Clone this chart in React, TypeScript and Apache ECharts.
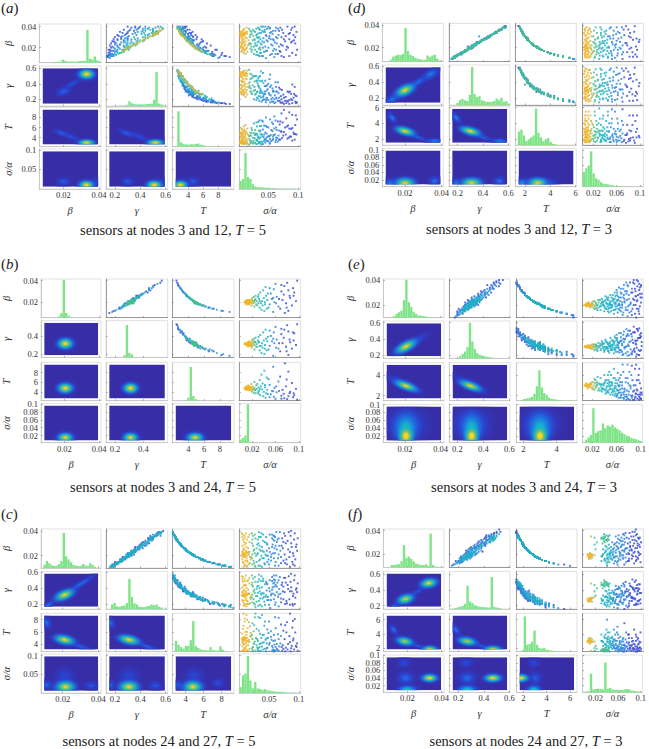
import React, { useEffect, useRef } from "react";
import * as echarts from "echarts";

const paramNames = ["β", "γ", "T", "σ/α"];

// Marginal histograms (25 bins across each axis, bar height in % of the cell)
const histA = [
  [0,0,0,0,0,1,2,2,3,8,5,3,3,3,3,3,4,4,5,85,10,8,16,6,1],
  [0,0,0,0,0,1,1,1,3,12,7,5,4,4,4,4,5,5,6,16,85,6,4,1,0],
  [0,1,90,11,7,6,5,6,6,7,8,5,3,2,1,1,1,0,0,0,0,0,0,0,0],
  [20,25,90,30,25,12,6,5,4,4,3,3,2,2,2,1,1,1,1,1,1,1,1,0,0],
];
const histB = [
  [0,0,0,0,0,0,0,3,12,98,12,5,1,0,0,0,0,0,0,0,0,0,0,0,0],
  [0,0,0,0,0,0,0,6,88,12,8,1,0,0,0,0,0,0,0,0,0,0,0,0,0],
  [0,0,0,0,0,1,8,88,12,4,1,0,0,0,0,0,0,0,0,0,0,0,0,0,0],
  [8,12,18,98,2,1,0,0,0,0,0,0,0,0,0,0,0,0,0,0,0,0,0,0,0],
];
const histC = [
  [0,8,18,12,7,5,6,10,18,90,30,22,15,8,6,5,5,10,7,5,12,8,3,0,0],
  [0,0,12,16,7,6,8,10,16,80,32,15,12,6,5,5,7,8,12,10,12,6,4,0,0],
  [0,28,18,12,8,15,15,30,80,15,10,6,4,4,3,12,4,3,3,14,5,2,0,0,0],
  [15,45,50,95,32,12,28,12,10,8,10,7,6,5,4,3,3,3,2,1,1,1,1,0,0],
];
const histD = [
  [0,0,0,5,13,16,18,17,20,88,28,18,15,10,8,6,5,5,16,12,16,18,8,3,0],
  [0,0,0,5,12,15,12,10,25,95,28,20,22,12,10,8,8,8,10,16,12,18,8,10,3],
  [0,35,40,25,10,15,20,25,95,32,20,10,15,18,8,3,2,0,0,0,0,0,0,0,0],
  [38,48,55,92,35,22,18,12,8,7,6,4,3,2,2,1,1,1,1,0,0,0,0,0,0],
];
const histE = [
  [0,0,0,2,4,10,14,18,45,98,40,28,15,10,6,5,4,3,2,2,1,0,0,0,0],
  [0,0,0,1,6,12,18,30,95,45,25,14,10,7,6,4,3,2,1,1,0,0,0,0,0],
  [0,0,2,4,6,8,10,18,38,80,35,20,15,8,5,4,2,2,1,0,0,0,0,0,0],
  [1,8,14,20,90,25,30,32,50,38,45,42,47,40,36,32,26,22,18,16,12,10,9,6,3],
];
const histF = [
  [0,0,0,6,6,8,8,16,58,25,28,22,16,10,8,6,6,8,4,88,6,2,1,0,0],
  [0,1,2,4,6,8,14,62,20,16,10,8,6,5,5,4,4,85,6,4,3,1,0,0,0],
  [0,2,3,92,18,20,26,55,18,10,8,10,5,4,3,2,1,1,1,1,0,0,0,0,0],
  [1,2,3,50,8,9,10,9,8,80,10,12,8,6,7,6,6,8,9,8,5,4,3,2,1],
];

// Density peaks read off each heat cell: [x, y, halfWidth, halfHeight, tiltDeg, level, levelUnderneath]
// Cell order: (β,γ) (β,T) (γ,T) (β,σ) (γ,σ) (T,σ)
const heatA = [
  [[.025,.4,.013,.065,30,.22,0],[.02,.3,.006,.07,20,.26,.1],[.033,.525,.0085,.12,0,1.05,0]],
  [[.024,4.2,.013,1,-22,.22,0],[.019,4.9,.006,.85,-20,.26,.1],[.033,3,.0085,1.2,0,1.05,0]],
  [[.39,4.2,.19,1,-22,.2,0],[.29,4.9,.09,.85,-20,.26,.1],[.52,3,.125,1.2,0,1.05,0]],
  [[.02,.017,.007,.02,0,.25,0],[.038,.015,.005,.02,0,.2,0],[.033,.008,.008,.022,0,1.05,0]],
  [[.3,.017,.09,.02,0,.25,0],[.56,.015,.06,.02,0,.2,0],[.51,.008,.115,.022,0,1.05,0]],
  [[4.6,.017,1.6,.02,0,.25,0],[3,.008,1.8,.022,0,1.05,0]],
];
const heatB = [
  [[.0205,.315,.0085,.115,0,1.05,0]],
  [[.0205,4.85,.0085,2,0,1.05,0]],
  [[.31,4.85,.1,2,0,1.05,0]],
  [[.0205,.015,.0085,.023,0,1,0]],
  [[.31,.015,.1,.023,0,1,0]],
  [[4.85,.015,2,.023,0,1,0]],
];
const heatC = [
  [[.03,.45,.018,.065,33,.3,0],[.012,.19,.007,.065,33,.32,0],[.021,.315,.0095,.1,22,1,.15]],
  [[.011,7.5,.006,1.3,-58,.32,0],[.03,3.6,.013,.75,-18,.27,0],[.021,4.7,.0095,1.25,-12,1,.15]],
  [[.16,7.5,.09,1.3,-58,.32,0],[.45,3.6,.19,.75,-18,.27,0],[.31,4.7,.14,1.25,-12,1,.15]],
  [[.021,.045,.01,.04,0,.17,0],[.011,.02,.006,.024,0,.27,0],[.036,.018,.007,.022,0,.24,0],[.0215,.015,.0095,.028,0,1,.12]],
  [[.31,.045,.15,.04,0,.17,0],[.16,.02,.08,.024,0,.27,0],[.52,.018,.09,.022,0,.24,0],[.31,.015,.135,.028,0,1,.12]],
  [[4.9,.045,1.9,.04,0,.17,0],[3.2,.02,1,.024,0,.27,0],[7.6,.025,1.2,.022,0,.22,0],[4.8,.015,1.8,.028,0,1,.12]],
];
const heatD = [
  [[.027,.4,.019,.08,33,.3,0],[.034,.5,.007,.08,30,.34,.1],[.013,.19,.007,.075,30,.32,.1],[.02,.3,.009,.105,25,1,.15]],
  [[.013,4.7,.006,.75,-50,.36,0],[.027,2.2,.011,.6,-18,.26,0],[.036,1.75,.007,.5,0,.34,.1],[.02,3,.009,.85,-15,1,.15]],
  [[.19,4.7,.09,.75,-50,.36,0],[.4,2.2,.16,.6,-18,.26,0],[.53,1.75,.1,.5,0,.34,.1],[.3,3,.135,.85,-15,1,.15]],
  [[.012,.012,.006,.022,0,.36,0],[.036,.017,.006,.022,0,.32,0],[.02,.012,.009,.023,0,.98,.15]],
  [[.19,.012,.07,.022,0,.36,0],[.53,.017,.08,.022,0,.32,0],[.31,.012,.135,.023,0,.98,.15]],
  [[1.8,.012,1,.022,0,.42,0],[4,.012,1,.02,0,.22,0],[3,.012,1.25,.023,0,.98,.15]],
];
const heatE = [
  [[.025,.36,.017,.08,30,.25,0],[.0205,.305,.011,.1,28,1,.15]],
  [[.02,3.1,.017,.75,-25,.3,0],[.0205,2.95,.011,.65,-20,1,.15]],
  [[.3,3.1,.23,.75,-25,.3,0],[.3,2.95,.145,.65,-20,1,.15]],
  [[.021,.05,.02,.07,0,.27,0],[.0205,.04,.0095,.055,0,.6,.2],[.0205,.02,.0055,.032,0,1.15,.45]],
  [[.31,.05,.26,.07,0,.27,0],[.31,.04,.115,.055,0,.6,.2],[.31,.02,.07,.032,0,1.15,.45]],
  [[3,.05,2,.07,0,.27,0],[3,.04,1,.055,0,.6,.2],[3,.02,.58,.032,0,1.15,.45]],
];
const heatF = [
  [[.026,.38,.014,.055,30,.22,0],[.012,.19,.007,.055,32,.32,0],[.019,.285,.0085,.1,15,.95,.1],[.0325,.485,.0085,.1,10,1,.1]],
  [[.012,4.6,.006,.85,-50,.32,0],[.026,2.3,.011,.55,-18,.24,0],[.0185,2.95,.0085,1,-10,.9,.1],[.033,1.78,.0075,.9,0,1.05,.1]],
  [[.18,4.6,.09,.85,-50,.32,0],[.38,2.3,.16,.55,-18,.24,0],[.27,2.95,.125,1,-10,.9,.1],[.47,1.78,.115,.9,0,1.05,.1]],
  [[.018,.08,.007,.023,0,.2,0],[.019,.04,.009,.03,0,.3,0],[.02,.009,.009,.019,0,.6,.1],[.033,.04,.0085,.02,0,1.05,0]],
  [[.26,.08,.1,.023,0,.2,0],[.27,.04,.125,.03,0,.3,0],[.27,.009,.115,.019,0,.6,.1],[.47,.04,.125,.02,0,1.05,0]],
  [[2.9,.08,.9,.023,0,.2,0],[3,.04,1,.03,0,.27,0],[2.9,.009,1,.019,0,.6,.1],[1.8,.04,1.2,.02,0,1.05,0]],
];

// Scatter samples: [β×1000, γ×100, T×10, (σ/α)×1000, colour level 0..5]
const samplesA = [
[33,52,31,5,5],[34,54,30,7,5],[32,50,32,9,5],[35,55,29,4,5],[33,53,30,11,5],[31,48,33,6,5],[36,56,28,8,5],[34,52,30,12,5],[32,51,31,3,5],[37,57,27,10,5],[33,50,32,14,4],[35,53,29,15,4],[30,46,35,8,5],[29,44,36,5,5],[28,43,37,10,5],[27,42,38,7,5],[26,40,40,12,5],[25,38,42,4,5],[24,37,43,9,5],[23,35,45,6,5],[22,33,47,11,5],[21,32,48,8,5],[20,30,50,5,5],[19,29,52,13,5],[18,28,54,7,5],[17,27,56,10,4],[16,26,58,15,4],[15,25,62,9,4],[20,32,49,14,4],[22,36,46,16,4],
[38,58,26,18,3],[36,53,29,20,3],[33,47,33,22,3],[30,42,36,19,3],[27,38,40,24,3],[24,34,44,21,3],[21,31,49,26,3],[18,27,55,23,3],[35,50,30,28,2],[32,44,34,30,2],[28,36,39,27,2],[25,30,44,32,2],[22,27,48,29,2],[19,24,54,34,2],[16,22,62,31,2],[14,20,68,26,2],[37,50,29,36,2],[34,43,32,38,2],[30,35,38,35,2],[26,28,43,40,2],[39,47,28,33,2],[29,25,41,42,1],
[40,44,30,45,1],[38,38,33,48,1],[35,30,37,44,1],[31,26,42,52,1],[27,22,48,47,1],[23,20,55,55,1],[20,19,60,50,1],[17,17,67,58,1],[13,16,76,53,1],[11,15,82,60,1],[36,42,31,62,1],[33,34,35,57,1],[29,30,39,65,1],[25,25,46,61,1],[21,22,54,68,1],[39,33,36,70,0],[34,26,44,75,0],[30,20,52,72,0],[26,18,60,78,0],[22,16,70,74,0],[18,15,78,80,0],[12,14,90,85,0],[37,27,42,88,0],[32,22,50,92,0],[28,19,58,85,0],[24,17,65,95,0],[15,15,85,90,0],[40,30,38,82,0],[11,14,95,76,0],[35,24,46,97,0],[14,18,72,66,0],[16,20,64,43,1],[12,17,74,39,1],[13,19,70,30,2],[10,16,80,46,1],[38,46,30,52,1],[40,54,27,41,1],[28,30,42,58,1],[24,29,46,37,2],[20,23,56,41,1],[18,22,60,63,1],
];
const samplesA2 = [
[33,51,30,6,5],[32,52,31,10,5],[34,53,29,3,5],[35,54,30,13,5],[31,49,33,4,5],[36,55,28,6,5],[33,54,31,8,5],[34,51,30,10,5],[21,33,47,3,5],[20,31,49,7,5],[19,30,51,9,5],[22,34,46,5,5],[18,29,53,11,5],[23,36,44,12,5],[24,38,42,6,5],[20,29,50,4,5],[17,26,57,6,5],[25,39,41,10,5],[28,44,37,6,5],[30,47,34,12,5],[26,42,39,7,4],
[19,30,50,20,3],[35,52,30,22,3],[23,37,44,19,3],[31,50,33,25,3],[16,27,59,22,3],[37,48,28,24,3],[27,43,38,27,3],[22,29,47,31,2],[38,50,27,30,2],[13,21,71,33,2],[34,49,31,35,2],[29,38,40,33,2],[18,31,54,37,2],[36,44,30,40,2],[24,32,45,28,2],[40,56,26,38,2],[15,24,63,36,2],[12,19,72,41,1],[32,37,36,46,1],[26,33,42,49,1],[39,52,28,53,1],[21,27,50,45,1],[35,38,33,55,1],[17,21,61,48,1],[28,25,45,54,1],[30,30,40,63,1],[14,16,74,62,1],[38,42,32,66,1],[23,24,52,71,0],[36,35,36,68,0],[20,17,64,83,0],[31,23,46,79,0],[27,27,47,93,0],[16,16,72,70,0],[39,39,34,90,0],[33,29,40,84,0],[13,15,84,96,0],[25,20,57,88,0],
];
const samplesA3 = [
[38,55,27,9,5],[16,27,58,5,5],[14,23,65,12,4],[29,46,36,14,4],[27,40,38,17,4],[39,57,26,14,4],[24,35,43,18,3],[32,46,33,20,3],[36,50,29,26,3],[21,30,49,22,3],[18,26,55,28,3],[30,44,36,31,2],[26,37,41,34,2],[33,41,34,32,2],[20,28,52,36,2],[38,44,31,35,2],[15,22,63,38,2],[23,30,47,39,2],[35,41,33,42,2],[28,33,40,37,2],[12,18,74,35,1],[37,37,34,44,1],[31,31,40,47,1],[25,27,46,43,1],[17,19,63,46,1],[40,40,33,50,1],[34,36,37,53,1],[29,28,43,51,1],[22,22,53,57,1],[19,20,58,60,1],[36,31,37,58,1],[27,30,45,59,1],[14,17,70,56,1],[39,36,35,63,1],[32,28,44,67,1],[24,21,55,64,1],[17,18,66,69,0],[37,32,39,73,0],[28,22,51,76,0],[21,18,62,81,0],[34,30,42,86,0],[12,15,88,72,0],[30,25,47,95,0],[40,36,36,94,0],[26,19,59,90,0],[18,16,76,98,0],
];
const samplesB = [
[20,31,48,13,5],[21,32,47,15,5],[20,32,49,11,5],[19,30,50,14,5],[21,31,46,16,5],[20,30,48,10,5],[20,33,48,17,5],[22,33,45,13,5],[19,31,51,12,5],[21,33,47,14,5],[18,29,53,15,5],[22,32,44,18,5],[20,31,47,9,5],[21,30,48,12,5],[19,32,49,16,5],[20,31,50,18,5],[22,34,44,15,5],[18,28,54,13,5],
[23,35,43,20,4],[19,29,52,21,4],[21,33,46,22,4],[17,27,57,19,4],[24,36,41,20,4],[20,30,49,24,3],[22,33,45,25,3],[18,28,54,27,3],[25,37,39,23,3],[16,25,61,24,3],[21,31,47,28,3],[26,38,38,26,3],
[23,33,43,32,2],[19,29,52,35,2],[27,39,37,31,2],[15,24,65,33,2],[21,32,46,37,2],[29,41,34,34,2],[17,27,58,38,2],[24,35,41,40,2],[13,21,76,36,2],[31,44,32,39,2],[20,30,50,42,2],[26,37,38,44,2],[12,20,84,41,2],[22,34,45,46,2],[34,47,29,43,2],
[18,29,55,50,1],[28,40,36,52,1],[15,25,67,48,1],[23,34,43,54,1],[33,46,30,50,1],[11,18,92,56,1],[20,32,49,58,1],[37,50,27,60,1],[25,36,40,62,1],[16,26,62,65,1],
[30,42,33,70,0],[14,23,72,68,0],[22,32,45,72,0],[35,47,28,75,0],[19,28,52,78,0],[27,38,37,74,0],[12,19,82,82,0],[24,33,41,85,0],[38,52,26,80,0],[17,26,59,88,0],[10,16,99,76,0],[29,43,34,92,0],[21,30,47,95,0],[33,44,30,90,0],[40,53,25,97,0],[26,36,38,84,0],
];
const samplesB2 = [
[20,31,48,12,5],[21,31,47,10,5],[20,32,48,15,5],[19,30,49,11,5],[21,32,46,8,5],[20,30,50,12,5],[22,32,45,11,5],[19,31,50,9,5],[20,33,47,14,5],[21,30,47,16,5],[20,31,49,7,5],[22,33,46,17,5],[19,29,51,17,5],[18,30,52,10,5],[20,29,49,19,4],[22,31,45,20,4],[19,32,48,22,4],[21,34,46,23,3],[23,33,44,26,3],[17,28,57,29,3],[25,35,40,30,2],[21,29,47,33,2],[19,33,50,31,2],[18,26,55,42,2],[28,39,36,47,2],[14,24,70,45,2],[24,37,42,56,1],[32,44,31,57,1],[19,27,52,61,1],[23,32,43,66,0],[15,23,66,79,0],[31,45,32,82,0],[36,48,27,70,0],[26,35,38,91,0],
];
const samplesC = [
[21,31,48,8,5],[22,32,46,12,5],[21,32,47,5,5],[20,30,49,10,5],[22,33,45,14,5],[21,30,48,7,5],[23,34,44,11,5],[20,31,50,13,5],[19,29,52,9,5],[24,35,42,6,5],[18,27,55,12,5],[25,37,40,8,5],[16,25,60,10,5],[28,41,36,5,5],[14,22,70,7,5],[30,44,33,11,5],[12,18,82,9,5],[33,48,30,6,5],[11,17,88,12,5],[36,52,28,9,5],[38,55,26,4,5],[15,23,66,14,5],[26,38,38,15,4],[21,33,47,16,4],[23,33,44,17,4],[19,28,53,18,4],[13,20,76,16,4],[31,46,32,17,4],[35,50,29,15,4],[17,26,58,19,4],
[21,32,48,22,3],[24,36,41,24,3],[18,28,55,21,3],[28,42,35,23,3],[14,21,71,25,3],[33,47,30,22,3],[11,16,90,27,3],[20,30,50,28,3],[37,54,27,26,3],[26,39,38,29,3],
[22,34,45,31,2],[16,24,62,33,2],[30,43,33,32,2],[12,19,83,35,2],[25,36,40,34,2],[20,32,50,37,2],[35,49,29,36,2],[18,27,55,39,2],[27,41,36,38,2],[39,57,26,33,2],[23,33,43,41,2],[14,23,70,42,2],[32,49,31,40,2],[21,29,47,44,2],
[29,45,34,47,1],[17,25,58,49,1],[24,37,41,46,1],[37,50,27,51,1],[19,31,52,53,1],[13,19,77,50,1],[27,38,37,55,1],[33,46,30,57,1],[21,33,47,54,1],[10,15,93,52,1],[26,42,39,59,1],[36,56,28,58,1],[15,22,66,61,1],[22,31,46,60,1],[31,42,32,63,1],[39,56,26,62,1],[18,29,56,65,1],[28,39,36,67,1],[12,17,83,66,1],[24,33,41,69,1],
[34,47,29,72,0],[16,26,62,74,0],[21,35,48,76,0],[30,47,34,78,0],[38,53,26,75,0],[13,21,76,80,0],[25,39,40,82,0],[19,26,53,84,0],[36,48,28,86,0],[27,36,37,88,0],[11,19,90,85,0],[22,30,46,90,0],[33,50,31,92,0],[40,58,25,87,0],[17,28,59,94,0],[29,40,35,96,0],[15,20,67,89,0],
];
const samplesC2 = [
[21,31,47,6,5],[20,31,49,4,5],[22,33,46,8,5],[21,32,48,10,5],[19,30,51,6,5],[23,35,43,5,5],[20,29,50,9,5],[22,31,45,7,5],[24,36,41,11,5],[26,38,39,7,5],[35,51,29,5,5],[38,56,26,11,5],[31,44,32,8,5],[13,20,77,9,5],[15,24,65,6,5],[11,18,90,7,5],[17,25,57,5,5],[29,43,34,9,5],[33,49,30,13,5],[12,20,80,13,4],[37,53,27,17,4],
[13,22,74,22,3],[34,48,29,27,3],[16,26,61,24,3],[38,56,25,21,3],[22,34,44,26,3],[29,42,34,30,2],[12,18,84,32,2],[35,51,28,33,2],[17,27,57,35,2],[37,52,27,40,2],[24,33,41,36,2],[31,45,32,43,2],[11,17,88,38,2],[20,31,49,45,2],[34,49,29,55,1],[35,50,29,60,1],[33,47,30,64,1],[36,51,28,58,1],[28,44,35,61,1],[15,25,64,47,1],[23,36,42,51,1],[19,27,53,70,1],[26,36,38,73,0],[14,20,71,77,0],[39,55,25,83,0],[32,44,31,81,0],[20,33,49,91,0],[24,35,41,97,0],[12,20,81,93,0],[30,41,33,87,0],
];
const samplesC3 = [
[34,49,29,9,5],[37,54,27,6,5],[16,24,60,13,5],[27,40,37,12,5],[23,33,43,15,4],[14,21,69,18,4],[19,30,52,20,4],[30,44,33,21,3],[36,52,28,23,3],[12,19,84,26,3],[25,38,40,25,3],[21,30,48,30,2],[15,23,65,29,2],[33,48,30,31,2],[28,40,35,34,2],[38,55,26,37,2],[18,29,55,41,2],[24,34,42,39,2],[13,19,77,43,2],[30,46,33,46,1],[35,48,28,45,1],[20,29,50,48,1],[26,40,39,50,1],[16,25,61,53,1],[37,54,27,55,1],[22,33,45,57,1],[29,41,34,56,1],[32,47,30,59,1],[12,19,84,60,1],[18,26,55,58,1],[25,35,40,63,1],[34,50,29,66,1],[39,54,26,68,1],[21,32,48,66,1],[14,22,72,70,0],[28,44,35,71,0],[31,42,32,74,0],[17,24,59,79,0],[36,53,28,77,0],[23,36,43,85,0],[38,56,26,93,0],[13,18,78,90,0],[27,38,37,95,0],[34,46,29,98,0],
];
const samplesD = [
[20,30,30,5,5],[21,31,29,9,5],[19,29,32,7,5],[20,31,30,12,5],[22,33,27,6,5],[18,27,33,4,5],[23,34,26,10,5],[17,25,35,8,5],[24,36,25,3,5],[16,24,38,13,5],[25,38,24,7,5],[15,23,40,11,5],[27,40,22,5,5],[14,21,43,9,5],[29,44,21,12,5],[13,20,46,6,5],[31,47,19,8,5],[12,18,50,10,5],[33,50,18,4,5],[11,17,55,7,5],[35,52,17,11,5],[36,54,17,5,5],[37,55,16,14,4],[20,29,30,15,4],[19,30,31,16,4],[22,32,27,14,4],[18,26,33,17,4],[26,39,23,15,4],[34,51,18,16,4],[15,22,40,18,4],
[20,31,30,22,3],[23,35,26,24,3],[17,26,35,21,3],[27,41,22,23,3],[14,22,43,25,3],[30,46,20,20,3],[33,49,18,26,3],[11,16,55,22,3],[21,32,29,27,3],[19,28,31,29,3],
[25,37,24,31,2],[16,25,38,33,2],[29,43,21,35,2],[22,34,27,30,2],[36,55,17,34,2],[12,19,50,37,2],[20,30,30,36,2],[18,28,33,39,2],[24,35,25,38,2],[32,48,19,41,2],[14,20,43,42,2],[27,40,22,44,2],[38,57,16,32,2],[21,33,29,46,2],[10,15,59,30,2],
[17,27,35,50,1],[23,33,26,53,1],[30,45,20,48,1],[13,19,46,52,1],[35,53,17,55,1],[20,29,30,58,1],[26,38,23,60,1],[15,24,40,62,1],[33,51,18,65,1],[11,18,55,57,1],[19,31,32,67,1],[28,42,22,63,1],[38,58,16,60,1],[22,31,27,70,1],
[24,37,25,75,0],[16,23,38,78,0],[31,46,19,73,0],[12,17,50,82,0],[36,53,17,80,0],[20,32,30,85,0],[27,41,22,88,0],[14,23,43,92,0],[34,50,18,90,0],[18,26,33,95,0],[25,35,24,98,0],[39,57,15,76,0],[29,45,21,84,0],[10,16,58,70,0],[21,28,29,93,0],[30,37,20,45,1],
];
const samplesD2 = [
[20,30,30,9,5],[21,32,29,5,5],[19,28,32,11,5],[22,34,27,8,5],[18,28,33,7,5],[24,35,25,11,5],[16,25,38,6,5],[27,41,22,8,5],[13,19,46,12,5],[31,46,19,5,5],[35,53,17,6,5],[12,19,50,6,5],[38,56,16,9,5],[29,43,21,7,5],[15,22,40,5,5],[33,49,18,10,5],[11,16,55,12,5],[25,37,24,12,5],[36,55,17,13,4],[14,20,43,16,4],[30,45,20,17,4],
[35,52,17,21,3],[12,18,50,23,3],[25,38,24,20,3],[16,24,38,26,3],[38,56,16,24,3],[29,43,21,28,3],[13,19,46,31,2],[31,47,19,33,2],[24,36,25,35,2],[17,26,35,37,2],[34,51,18,39,2],[20,29,30,43,2],[26,39,23,40,2],[12,18,50,45,2],[15,22,40,47,2],[38,57,16,50,1],[10,16,58,52,1],[28,42,22,54,1],[22,33,27,57,1],[32,49,19,59,1],[18,27,33,62,1],[25,38,24,66,1],[14,21,43,69,1],[36,54,17,72,0],[22,34,27,78,0],[30,44,20,81,0],[16,25,38,87,0],[39,58,15,91,0],[12,18,50,95,0],[27,39,22,99,0],
];
const samplesD3 = [
[21,31,29,6,5],[19,29,31,10,5],[23,33,26,7,5],[17,27,35,11,5],[14,22,43,6,5],[28,42,22,10,5],[26,38,23,8,5],[32,47,19,13,5],[37,57,16,6,5],[22,33,27,17,4],[16,24,38,19,4],[12,17,50,15,4],[24,36,25,22,3],[21,31,29,24,3],[18,27,33,26,3],[28,42,22,27,3],[20,29,30,31,2],[15,22,40,29,2],[23,35,26,32,2],[33,50,18,33,2],[19,29,31,34,2],[26,39,23,36,2],[13,20,46,36,2],[30,44,20,38,2],[22,32,27,40,2],[35,52,17,42,2],[17,25,35,44,2],[24,37,25,43,2],[11,17,55,45,2],[20,30,30,47,1],[28,41,22,49,1],[37,55,16,48,1],[15,23,40,51,1],[25,36,24,52,1],[31,46,19,54,1],[18,28,33,55,1],[23,34,26,59,1],[13,19,46,61,1],[34,50,18,62,1],[20,31,30,65,1],[29,44,21,68,1],[16,26,38,71,1],[38,57,16,69,1],[24,35,25,77,0],[33,49,18,83,0],[19,28,31,82,0],[12,17,50,88,0],[28,43,22,94,0],
];
const samplesE = [
[20,30,30,10,5],[21,31,29,12,5],[20,31,30,8,5],[19,29,31,14,5],[20,30,30,16,5],[21,30,29,11,5],[19,30,32,9,5],[20,29,30,13,5],[21,32,29,15,5],[20,31,31,18,5],[22,32,27,12,5],[19,28,31,17,4],[21,31,28,20,4],[20,30,30,22,4],[22,33,27,19,4],[18,28,33,21,4],[19,30,32,24,3],[21,32,29,26,3],[23,33,26,23,3],[17,27,35,25,3],[20,29,31,28,3],[22,31,27,30,3],[18,27,33,27,3],[24,35,25,29,3],[19,31,31,32,2],
[21,33,29,34,2],[16,26,37,33,2],[23,35,26,36,2],[20,28,30,38,2],[25,37,24,35,2],[18,30,33,40,2],[22,30,27,42,2],[15,24,40,39,2],[27,39,22,41,2],[19,29,32,44,2],[24,33,25,45,2],[17,25,35,46,2],[21,34,29,48,2],[26,36,23,43,2],[14,23,43,47,2],[20,32,30,50,2],[23,32,26,52,2],[18,26,33,51,2],[28,41,21,49,2],[16,28,37,54,2],[22,35,27,55,2],[25,33,24,53,2],[19,27,32,57,2],[30,43,20,56,2],[21,29,29,58,2],[13,22,46,55,2],[24,38,25,60,2],
[17,29,35,62,1],[27,36,22,61,1],[20,26,30,64,1],[32,45,19,59,1],[15,26,40,66,1],[23,37,26,65,1],[34,47,18,63,1],[18,24,33,68,1],[26,40,23,70,1],[12,20,50,69,1],[22,28,27,72,1],[29,38,21,67,1],[36,49,17,71,1],[16,22,37,74,1],[24,31,25,76,1],[31,40,19,73,1],[19,33,32,78,1],[38,52,16,75,1],[14,20,43,80,1],[21,27,29,82,1],[28,44,21,79,1],[33,43,18,84,1],[11,19,50,77,1],
[25,35,24,86,0],[17,24,35,85,0],[37,48,16,88,0],[30,46,20,83,0],[20,34,30,90,0],[13,24,46,89,0],[40,55,15,87,0],[23,29,26,92,0],[35,52,17,93,0],[27,33,22,91,0],[15,20,40,95,0],[32,41,19,96,0],[39,50,15,94,0],[19,25,32,97,0],[26,42,23,98,0],[10,18,50,91,0],[36,43,17,99,0],[29,36,21,100,0],
];
const samplesE2 = [
[20,30,30,7,5],[21,31,29,9,5],[19,30,31,11,5],[21,31,30,13,5],[20,31,30,15,5],[20,29,31,10,5],[22,31,28,14,5],[18,29,32,16,4],[21,32,28,18,4],[19,28,33,19,4],[23,33,26,21,4],[17,26,36,23,3],[22,33,28,25,3],[20,31,30,27,3],[18,29,32,30,3],[24,34,25,32,3],[16,25,38,28,2],[19,28,31,34,2],[22,32,27,35,2],[20,30,31,37,2],[23,34,26,39,2],[17,27,35,41,2],[21,30,29,43,2],[25,35,24,44,2],[15,25,40,45,2],[20,31,31,47,2],[22,30,27,49,2],[18,28,33,49,2],[26,38,23,51,2],[19,30,32,52,2],[24,36,25,54,2],[16,26,37,56,2],[21,32,29,56,2],[28,39,21,59,2],[23,31,26,60,2],[14,24,42,61,1],[20,29,30,62,1],[26,35,23,63,1],[18,26,33,65,1],[30,42,20,66,1],[22,34,27,68,1],[25,39,24,72,1],[33,45,18,70,1],[16,24,37,77,1],[29,43,21,75,1],[35,50,17,78,1],[20,36,30,80,1],[12,21,49,84,0],[24,28,25,88,0],[38,50,16,81,0],[31,38,19,90,0],[28,41,21,94,0],[17,21,35,92,0],[34,45,18,97,0],[22,26,27,99,0],[37,53,16,96,0],
];
const samplesE3 = [
[22,34,27,37,2],[19,26,32,39,2],[24,37,25,41,2],[17,28,35,43,2],[21,28,29,45,2],[26,34,23,46,2],[18,31,33,47,2],[23,36,26,48,2],[15,26,40,50,2],[20,27,30,52,2],[28,38,21,53,2],[25,37,24,56,2],[22,29,27,57,2],[17,24,35,58,2],[19,33,32,60,2],[27,41,22,57,2],[30,41,20,60,1],[24,32,25,62,1],[21,35,29,63,1],[16,23,37,64,1],[26,37,23,66,1],[33,47,18,66,1],[20,32,30,68,1],[14,21,43,70,1],[28,36,21,71,1],[23,30,26,72,1],[31,44,19,76,1],[18,30,33,74,1],[36,46,17,77,1],[25,31,24,79,1],[22,37,27,82,1],[15,22,40,83,1],[30,39,20,85,0],[38,48,16,86,0],[20,26,30,87,0],[27,37,22,90,0],[33,48,18,89,0],[24,38,25,93,0],[17,26,35,95,0],[40,52,15,92,0],[35,47,17,99,0],[29,41,21,97,0],[13,20,46,96,0],[26,31,23,100,0],
];
const samplesF = [
[18,27,30,8,5],[19,29,29,10,5],[18,26,31,7,5],[17,27,32,9,5],[19,28,29,12,5],[20,29,28,6,5],[18,28,30,11,5],[16,25,34,8,4],[20,30,28,13,4],[17,25,32,14,4],[19,30,29,15,4],[21,30,26,10,4],
[33,47,17,33,3],[34,48,16,36,3],[32,46,17,38,3],[33,49,17,35,3],[35,50,16,37,3],[31,45,18,34,3],[34,46,16,32,3],[32,48,17,40,3],[36,50,15,39,3],[33,45,17,41,3],[30,44,19,36,3],[35,47,16,42,2],[37,52,15,35,2],
[18,29,30,30,2],[20,27,28,33,2],[16,24,34,36,2],[22,32,25,38,2],[19,31,29,40,2],[14,21,39,37,2],[24,35,23,41,2],[17,26,32,43,2],[21,33,26,44,2],[15,25,36,42,2],[26,38,21,39,2],[18,24,30,46,2],[20,31,28,45,2],[23,29,24,47,2],[13,19,42,44,2],[28,40,20,43,2],[16,29,34,48,2],
[19,26,29,50,1],[25,34,22,52,1],[22,36,25,51,1],[17,23,32,53,1],[30,39,19,49,1],[14,24,39,54,1],[21,28,26,55,1],[27,35,20,56,1],[12,18,46,52,1],[24,31,23,58,1],[18,31,30,57,1],[33,41,17,59,1],[16,21,34,60,1],[20,25,28,62,1],[29,42,19,61,1],[26,30,21,64,1],[15,27,36,63,1],[23,38,24,66,1],[36,44,15,60,1],[11,17,50,58,1],[19,33,29,68,1],[31,36,18,67,1],[22,27,25,70,1],[17,28,32,72,1],[28,33,20,69,1],
[34,41,16,74,0],[25,38,22,73,0],[14,18,39,76,0],[38,50,14,72,0],[20,34,28,78,0],[30,45,19,80,0],[23,26,24,79,0],[35,44,16,82,0],[16,26,34,83,0],[27,41,20,85,0],[21,30,26,86,0],[39,53,14,84,0],[12,21,46,87,0],[32,38,18,88,0],[18,22,30,90,0],[25,29,22,89,0],[37,46,15,92,0],[29,35,19,93,0],[22,39,25,94,0],[15,23,36,91,0],[33,47,17,95,0],[26,36,21,97,0],[19,27,29,96,0],[41,52,13,90,0],[13,23,42,98,0],
[24,33,23,20,3],[28,38,20,18,3],[34,46,16,18,3],[35,48,16,12,4],[30,42,19,22,3],
];
const samplesF2 = [
[18,27,30,6,5],[19,27,29,8,5],[17,26,32,11,5],[18,29,30,13,5],[20,28,28,9,5],[16,26,34,11,4],[19,31,29,18,4],[33,46,17,30,3],[34,49,16,30,3],[31,47,18,40,3],[35,46,16,34,3],[32,44,18,43,3],[29,42,19,32,3],[36,48,15,44,2],
[18,27,30,31,2],[14,23,39,30,2],[21,31,26,36,2],[24,33,23,33,2],[16,27,34,40,2],[19,28,29,44,2],[12,19,46,39,2],[22,30,25,46,2],[26,36,21,47,2],[15,23,36,49,2],[20,27,28,50,2],[17,30,32,51,1],[28,37,20,52,1],[23,34,24,55,1],[13,22,42,57,1],[30,41,19,57,1],[25,31,22,60,1],[18,25,30,62,1],[35,45,16,55,1],[21,35,26,63,1],[27,32,20,65,1],[31,39,18,64,1],[16,24,34,68,1],[24,36,23,71,1],[33,44,17,70,1],[37,48,15,68,0],[20,31,28,74,0],[29,38,19,76,0],[14,20,39,78,0],[26,33,21,80,0],[35,42,16,86,0],[23,31,24,83,0],[18,29,30,85,0],[31,42,18,91,0],[39,50,14,88,0],[27,38,20,93,0],[21,26,26,95,0],[34,47,16,97,0],[16,22,34,94,0],[10,15,60,40,1],[11,16,55,70,0],
];
const samplesF3 = [
[19,26,29,32,2],[15,22,36,35,2],[23,31,24,37,2],[17,24,32,40,2],[27,39,20,37,2],[20,30,28,41,2],[13,21,42,41,2],[25,36,22,44,2],[21,29,26,48,2],[16,22,34,46,2],[24,28,23,50,1],[18,26,30,54,1],[29,40,19,54,1],[14,22,39,59,1],[26,34,21,58,1],[22,33,25,61,1],[32,42,17,62,1],[19,24,29,65,1],[28,35,20,66,1],[34,45,16,65,1],[17,22,32,67,1],[23,28,24,69,1],[36,46,15,70,1],[25,32,22,75,1],[13,20,42,73,1],[30,38,19,71,1],[21,32,26,77,1],[33,40,17,78,1],[27,36,20,80,0],[16,23,34,78,0],[38,48,14,79,0],[24,30,23,82,0],[19,30,29,83,0],[32,43,18,84,0],[29,40,19,87,0],[22,28,25,88,0],[36,42,15,90,0],[25,34,22,92,0],[17,26,32,93,0],[34,42,16,94,0],[20,28,28,98,0],[30,36,19,99,0],[28,41,20,96,0],[14,21,39,90,0],
];

// Axis ranges: per panel, per parameter [min, max], along x then along y
const xRangeA = [[.0065,.0411],[.13,.616],[1.93,10.07],[.0017,.104]];
const yRangeA = [[.0057,.0425],[.113,.63],[2.2,10],[-.0026,.103]];
const xRangeB = [[.0065,.0411],[.136,.572],[1.98,9.77],[-.0018,.103]];
const yRangeB = [[.0057,.0415],[.163,.57],[2.3,10.1],[.0019,.1017]];
const xRangeC = [[.0078,.0415],[.129,.616],[2.52,9.37],[0,.103]];
const yRangeC = [[.0101,.0415],[.137,.612],[2.74,9.05],[-.0018,.1045]];
const xRangeD = [[.0076,.0409],[.132,.613],[1.24,6.05],[.0017,.1057]];
const yRangeD = [[.0076,.0415],[.118,.612],[1.23,6.13],[.0022,.1044]];
const xRangeE = [[.0078,.0419],[.138,.605],[1.58,5.22],[.0038,.1027]];
const yRangeE = [[.0099,.0408],[.159,.62],[1.52,5.19],[.0026,.1009]];
const xRangeF = [[.006,.0414],[.13,.605],[1.4,6.6],[-.0026,.103]];
const yRangeF = [[.0086,.0414],[.159,.633],[1.48,6.9],[.0022,.1009]];

// Tick labels per panel and parameter
const xLabelsA = [[.02,.04],[.2,.4,.6],[4,6,8],[.05,.1]];
const yLabelsA = [[.02,.04],[.2,.4,.6],[4,6,8],[.05,.1]];
const xLabelsB = [[.02,.04],[.2,.4],[4,6,8],[.02,.06,.1]];
const yLabelsB = [[.02,.04],[.2,.4],[4,6,8],[.02,.04,.06,.08,.1]];
const xLabelsC = [[.02,.04],[.2,.4,.6],[4,6,8],[.05,.1]];
const yLabelsC = [[.02,.04],[.2,.4,.6],[4,6,8],[.05,.1]];
const xLabelsD = [[.02,.04],[.2,.4,.6],[2,4,6],[.02,.06,.1]];
const yLabelsD = [[.02,.04],[.2,.4,.6],[2,4,6],[.02,.04,.06,.08,.1]];
const xLabelsE = [[.02,.04],[.2,.4,.6],[2,4],[.02,.06,.1]];
const yLabelsE = [[.02,.04],[.2,.4,.6],[2,4],[.02,.04,.06,.08,.1]];
const xLabelsF = [[.02,.04],[.2,.4,.6],[2,4,6],[.02,.06,.1]];
const yLabelsF = [[.02,.04],[.2,.4,.6],[2,4,6],[.02,.04,.06,.08,.1]];

const captions = [
  "sensors at nodes 3 and 12, ", "sensors at nodes 3 and 24, ", "sensors at nodes 24 and 27, ",
  "sensors at nodes 3 and 12, ", "sensors at nodes 3 and 24, ", "sensors at nodes 24 and 27, ",
];
const captionT = ["5", "5", "5", "3", "3", "3"];
const panelLetters = ["a", "b", "c", "d", "e", "f"];

const SERIF = "Liberation Serif";
const HEAT_BG = "#372da6";
const HIST_GREEN = "#7ee487";
const POINT_COLORS = ["#3c4fd6", "#2b86dd", "#1fb0c4", "#45bd92", "#b9bb55", "#eeb52c"];
const HEAT_STOPS = [
  [0, 55, 45, 166], [.18, 40, 70, 215], [.35, 25, 130, 225], [.5, 20, 175, 205],
  [.65, 50, 190, 160], [.8, 130, 195, 100], [.9, 210, 195, 60], [1, 250, 215, 35],
];
const FALL_K = [0, .1, .2, .35, .6, .8, 1];
const FALL_T = [1, .9, .75, .5, .2, .07, 0];
const FALL_A = [1, 1, 1, 1, .8, .35, 0];
const TINT_CAP = [4, 3, 2, 3, 2, 2];

function heatRgb(t: number) {
  const v = Math.max(0, Math.min(1, t));
  for (let i = 1; i < HEAT_STOPS.length; i++) {
    if (v <= HEAT_STOPS[i][0]) {
      const a = HEAT_STOPS[i - 1], b = HEAT_STOPS[i];
      const f = (v - a[0]) / (b[0] - a[0]);
      return [1, 2, 3].map((k) => Math.round(a[k] + (b[k] - a[k]) * f));
    }
  }
  return HEAT_STOPS[HEAT_STOPS.length - 1].slice(1);
}

const layouts = [
  { dx: 0, dy: 0, cols: [[118,303],[318,503],[517,702],[718,902]], rows: [[72,188],[198,318],[322,440],[447,567]], gap: 25, cap: [168,230], lab: [1,0] },
  { dx: 0, dy: 250, cols: [[118,303],[318,503],[517,702],[718,902]], rows: [[87,203],[212,322],[337,452],[460,578]], gap: 29, cap: [158,487], lab: [1,256] },
  { dx: 0, dy: 499, cols: [[118,303],[318,503],[517,702],[718,902]], rows: [[90,207],[217,330],[343,458],[465,582]], gap: 29, cap: [154,741], lab: [1,506] },
  { dx: 325, dy: 0, cols: [[172,355],[372,555],[571,754],[773,955]], rows: [[70,185],[195,315],[320,435],[445,560]], gap: 26, cap: [514,229], lab: [348,0] },
  { dx: 325, dy: 250, cols: [[175,357],[373,555],[574,756],[773,955]], rows: [[87,203],[213,325],[338,452],[463,578]], gap: 27, cap: [519,487], lab: [348,256] },
  { dx: 325, dy: 499, cols: [[175,357],[373,555],[574,756],[773,955]], rows: [[90,205],[217,330],[343,458],[468,580]], gap: 27, cap: [521,741], lab: [348,506] },
];

const panelData = [
  { hist: histA, heat: heatA, samples: [...samplesA, ...samplesA2, ...samplesA3], xr: xRangeA, yr: yRangeA, xl: xLabelsA, yl: yLabelsA },
  { hist: histB, heat: heatB, samples: [...samplesB, ...samplesB2], xr: xRangeB, yr: yRangeB, xl: xLabelsB, yl: yLabelsB },
  { hist: histC, heat: heatC, samples: [...samplesC, ...samplesC2, ...samplesC3], xr: xRangeC, yr: yRangeC, xl: xLabelsC, yl: yLabelsC },
  { hist: histD, heat: heatD, samples: [...samplesD, ...samplesD2, ...samplesD3], xr: xRangeD, yr: yRangeD, xl: xLabelsD, yl: yLabelsD },
  { hist: histE, heat: heatE, samples: [...samplesE, ...samplesE2, ...samplesE3], xr: xRangeE, yr: yRangeE, xl: xLabelsE, yl: yLabelsE },
  { hist: histF, heat: heatF, samples: [...samplesF, ...samplesF2, ...samplesF3], xr: xRangeF, yr: yRangeF, xl: xLabelsF, yl: yLabelsF },
];

const SCALE = [1000, 100, 10, 1000];
const HEAT_PAIRS: Record<string, number> = { "1,0": 0, "2,0": 1, "2,1": 2, "3,0": 3, "3,1": 4, "3,2": 5 };

function renderBlob(params: any, api: any) {
  const cs = params.coordSys;
  const rect = { x: cs.x + 3.2, y: cs.y + 2.2, width: cs.width - 6, height: cs.height - 4.4 };
  const c = api.coord([api.value(0), api.value(1)]);
  const s = api.size([api.value(2), api.value(3)]);
  const L = api.value(5);
  const base = api.value(6);
  const stops = FALL_K.map((k, i) => {
    const [r, g, b] = heatRgb(base + (L - base) * FALL_T[i]);
    return { offset: k, color: `rgba(${r},${g},${b},${FALL_A[i]})` };
  });
  const kids: any[] = [];
  if (params.dataIndex === 0) kids.push({ type: "rect", shape: rect, style: { fill: HEAT_BG } });
  kids.push({
    type: "ellipse",
    x: c[0],
    y: c[1],
    rotation: (api.value(4) * Math.PI) / 180,
    shape: { cx: 0, cy: 0, rx: s[0], ry: s[1] },
    style: { fill: { type: "radial", x: 0.5, y: 0.5, r: 0.5, colorStops: stops } },
  });
  return { type: "group", clipPath: { type: "rect", shape: rect }, children: kids };
}

function buildOption() {
  const grid: any[] = [], xAxis: any[] = [], yAxis: any[] = [], series: any[] = [], title: any[] = [];
  const lab = { color: "#333", fontFamily: SERIF, fontSize: 8.5, lineHeight: 6, margin: 3, hideOverlap: false };
  // Empty labels at both ends of an axis keep ECharts' end-label overlap check away from the real ones.
  const labelsFor = (ticks: number[], range: number[]) => ({
    ...lab,
    show: true,
    customValues: [range[0], ...ticks, range[1]],
    formatter: (v: number) => (ticks.includes(v) ? String(v) : ""),
  });
  layouts.forEach((lay, p) => {
    const d = panelData[p];
    for (let r = 0; r < 4; r++) {
      for (let c = 0; c < 4; c++) {
        const left = lay.dx + lay.cols[c][0] / 3, right = lay.dx + lay.cols[c][1] / 3;
        const top = lay.dy + lay.rows[r][0] / 3, bottom = lay.dy + lay.rows[r][1] / 3;
        const gi = grid.length;
        grid.push({ left, top, width: right - left, height: bottom - top, show: true, borderColor: "#d4d4d4", borderWidth: 0.7, backgroundColor: "#fff" });
        const isScatter = c > r;
        const lineCol = isScatter ? "#777" : "#bbb";
        const xi = xAxis.length;
        xAxis.push({
          type: "value", gridIndex: gi, min: d.xr[c][0], max: d.xr[c][1], position: "bottom",
          splitLine: { show: false }, axisLine: { show: true, onZero: false, lineStyle: { color: lineCol, width: 0.7 } },
          axisTick: { show: true, inside: true, length: 1.5, customValues: d.xl[c], lineStyle: { color: "#777", width: 0.6 } },
          axisLabel: r === 3 ? labelsFor(d.xl[c], d.xr[c]) : { show: false },
          name: r === 3 ? paramNames[c] : "", nameLocation: "middle", nameGap: 16,
          nameTextStyle: { fontFamily: SERIF, fontStyle: "italic", fontSize: 10.5, color: "#333" },
        });
        const yi = yAxis.length;
        yAxis.push({
          type: "value", gridIndex: gi, min: d.yr[r][0], max: d.yr[r][1], position: "left",
          splitLine: { show: false }, axisLine: { show: true, onZero: false, lineStyle: { color: lineCol, width: 0.7 } },
          axisTick: { show: true, inside: true, length: 1.5, customValues: d.yl[r], lineStyle: { color: "#777", width: 0.6 } },
          axisLabel: c === 0 ? labelsFor(d.yl[r], d.yr[r]) : { show: false },
          name: c === 0 ? paramNames[r] : "", nameLocation: "middle", nameGap: lay.gap, nameRotate: 90,
          nameTextStyle: { fontFamily: SERIF, fontStyle: "italic", fontSize: 10.5, color: "#333" },
        });
        if (r === c) {
          const hy = yAxis.length;
          yAxis.push({ type: "value", gridIndex: gi, min: 0, max: 100, show: false, splitLine: { show: false } });
          const [lo, hi] = d.xr[c];
          const h = d.hist[c];
          const w = (hi - lo) / h.length;
          series.push({
            type: "bar", xAxisIndex: xi, yAxisIndex: hy, barWidth: ((right - left) / h.length) * 0.96,
            itemStyle: { color: HIST_GREEN }, silent: true,
            data: h.map((v, i) => [lo + (i + 0.5) * w, v]),
          });
        } else if (isScatter) {
          const order = [...d.samples].sort((a, b) => a[4] - b[4]);
          const inSigma = c === 3;
          series.push({
            type: "scatter", xAxisIndex: xi, yAxisIndex: yi, symbol: "rect", symbolSize: 1.9, silent: true,
            data: order.map((s) => ({
              value: [s[c] / SCALE[c], s[r] / SCALE[r]],
              itemStyle: { opacity: 0.85, color: POINT_COLORS[inSigma ? s[4] : Math.min(TINT_CAP[p], Math.round(s[4] * 0.8))] },
            })),
          });
        } else {
          const cells = d.heat[HEAT_PAIRS[`${r},${c}`]];
          series.push({
            type: "custom", xAxisIndex: xi, yAxisIndex: yi, clip: false, silent: true,
            encode: { x: 0, y: 1 }, renderItem: renderBlob, data: cells,
          });
        }
      }
    }
    title.push({
      text: `{n|${captions[p]}}{i|T}{n| = ${captionT[p]}}`,
      left: lay.cap[0], top: lay.cap[1] - 13, textAlign: "center",
      textStyle: {
        fontWeight: "normal",
        rich: {
          n: { fontFamily: SERIF, fontSize: 14.5, color: "#222", fontWeight: "normal" },
          i: { fontFamily: SERIF, fontSize: 14.5, fontStyle: "italic", color: "#222", fontWeight: "normal" },
        },
      },
    });
    title.push({
      text: `{n|(}{i|${panelLetters[p]}}{n|)}`,
      left: lay.lab[0], top: lay.lab[1], padding: 0,
      textStyle: {
        fontWeight: "normal",
        rich: {
          n: { fontFamily: SERIF, fontSize: 15, color: "#222", fontWeight: "normal" },
          i: { fontFamily: SERIF, fontSize: 15, fontStyle: "italic", color: "#222", fontWeight: "normal" },
        },
      },
    });
  });
  return { animation: false, backgroundColor: "#fff", title, grid, xAxis, yAxis, series };
}

export default function App() {
  const ref = useRef<HTMLDivElement>(null);
  useEffect(() => {
    const chart = echarts.init(ref.current!, null, { renderer: "svg" });
    chart.setOption(buildOption() as any);
    return () => chart.dispose();
  }, []);
  return <div ref={ref} style={{ position: "absolute", left: 0, top: 0, width: 649, height: 749 }} />;
}
